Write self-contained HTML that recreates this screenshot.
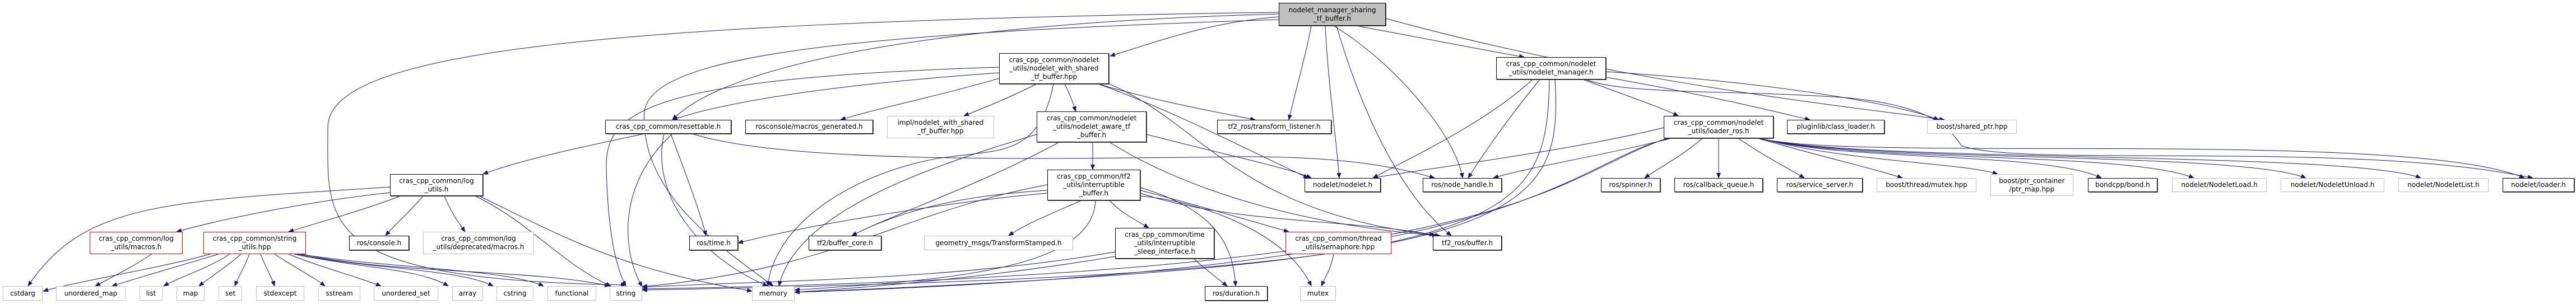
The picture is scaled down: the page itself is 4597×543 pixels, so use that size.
<!DOCTYPE html>
<html><head><meta charset="utf-8"><style>
body{margin:0;background:#fff;}
#c{position:relative;width:4597px;height:543px;overflow:hidden;background:#fff;font-family:"DejaVu Sans","Liberation Sans",sans-serif;font-size:12px;line-height:15px;color:#000;}
svg{position:absolute;left:0;top:0;}
.n{position:absolute;box-sizing:border-box;display:flex;align-items:center;justify-content:center;text-align:center;white-space:nowrap;background:#fff;}
.b{border:1px solid #000;box-shadow:1px 1px 0 #555;}
.g{border:1px solid #bfbfbf;}
.r{border:1px solid #ff0000;}
.root{background:#bfbfbf;border:1px solid #000;box-shadow:1px 1px 0 #555;}
</style></head><body><div id="c">
<svg width="4597" height="543" viewBox="0 0 4597 543">
<defs><marker id="a" markerWidth="10" markerHeight="8" refX="9" refY="4" orient="auto" markerUnits="userSpaceOnUse"><path d="M0,0 L10,4 L0,8 z" fill="#191970"/></marker></defs>
<g fill="none" stroke="#191970" stroke-width="1" marker-end="url(#a)">
<path d="M2283 30 C2150 40 2050 80 1981 100"/>
<path d="M2420 46 C2550 70 2650 90 2720 102"/>
<path d="M2283 25 C1700 40 1300 110 1200 214"/>
<path d="M2283 22 C1000 40 580 100 585 230 C585 400 560 500 1117 509"/>
<path d="M2283 35 C1500 60 1160 100 1150 200 C1140 350 1300 450 1380 511"/>
<path d="M2365 46 C2370 150 2385 250 2390 318"/>
<path d="M2380 46 C2500 120 2600 250 2610 318"/>
<path d="M2385 46 C2430 200 2500 350 2590 421"/>
<path d="M2340 46 C2330 100 2310 170 2300 214"/>
<path d="M2473 33 C2900 150 3300 190 3470 214"/>
<path d="M1783 130 C1500 150 1300 180 1200 214"/>
<path d="M1783 140 C1680 170 1560 195 1500 214"/>
<path d="M1850 150 C1800 175 1750 195 1720 207"/>
<path d="M1900 150 C1910 170 1915 185 1920 199"/>
<path d="M1960 150 C2060 180 2170 200 2240 214"/>
<path d="M1880 150 C1850 300 1760 260 1640 290 C1480 330 1380 420 1370 511"/>
<path d="M1783 120 C1150 140 1080 200 1082 300 C1085 420 1100 480 1117 511"/>
<path d="M1960 150 C2100 200 2250 280 2335 318"/>
<path d="M1975 148 C2150 220 2200 380 2570 421"/>
<path d="M2735 142 C2650 220 2520 280 2450 318"/>
<path d="M2748 142 C2700 200 2650 270 2620 318"/>
<path d="M2825 142 C2900 170 2960 190 2995 207"/>
<path d="M2866 138 C3050 170 3170 200 3230 214"/>
<path d="M2866 128 C3200 150 3400 190 3460 214"/>
<path d="M2830 142 C2900 170 3100 160 3300 175 C3450 190 3480 230 3500 260 C3600 300 4200 250 4520 318"/>
<path d="M2765 142 C2760 400 2700 470 1418 522"/>
<path d="M2775 142 C2790 400 2720 490 1146 518"/>
<path d="M2046 240 C2200 280 2300 300 2340 318"/>
<path d="M1950 254 L1950 303"/>
<path d="M1890 254 C1750 330 1600 380 1520 421"/>
<path d="M1850 240 C1650 300 1420 380 1390 511"/>
<path d="M1980 254 C2100 330 2300 400 2565 421"/>
<path d="M1150 239 C1050 260 930 285 862 311"/>
<path d="M1197 239 C1220 300 1250 380 1260 421"/>
<path d="M1185 239 C1160 350 1250 460 1370 511"/>
<path d="M1235 239 C1400 290 1800 285 2200 280 C2400 278 2500 300 2560 318"/>
<path d="M1200 239 C1100 330 1110 450 1146 512"/>
<path d="M1869 345 C1700 360 1450 400 1317 434"/>
<path d="M1869 340 C1700 350 1600 380 1520 421"/>
<path d="M1930 358 C1880 380 1830 400 1800 421"/>
<path d="M1980 358 C2000 380 2030 395 2050 407"/>
<path d="M2035 340 C2150 370 2250 400 2300 414"/>
<path d="M2035 345 C2200 400 2400 390 2560 420"/>
<path d="M2035 335 C2150 370 2200 420 2205 511"/>
<path d="M1955 358 C1950 480 1700 500 1418 518"/>
<path d="M1869 330 C1600 380 1500 480 1146 512"/>
<path d="M2035 350 C2150 360 2300 420 2340 511"/>
<path d="M2130 462 C2150 480 2170 495 2190 511"/>
<path d="M1990 458 C1800 490 1600 510 1418 522"/>
<path d="M1990 450 C1700 500 1400 500 1146 513"/>
<path d="M2380 454 C2375 480 2365 495 2358 511"/>
<path d="M696 334 C300 360 150 360 50 511"/>
<path d="M696 344 C550 360 400 390 315 414"/>
<path d="M715 350 C650 375 560 400 515 414"/>
<path d="M755 350 C730 380 705 400 688 421"/>
<path d="M793 350 C805 380 820 400 830 414"/>
<path d="M848 350 C950 400 1000 470 1090 511"/>
<path d="M855 350 C1000 420 1100 480 1342 520"/>
<path d="M270 454 C240 475 200 495 170 511"/>
<path d="M375 454 C280 480 150 500 77 520"/>
<path d="M390 454 C320 475 250 495 200 511"/>
<path d="M410 454 C370 480 320 495 292 511"/>
<path d="M430 454 C400 480 375 495 355 511"/>
<path d="M445 454 C435 480 425 495 419 511"/>
<path d="M465 454 C475 480 485 495 490 511"/>
<path d="M490 454 C530 480 560 495 580 511"/>
<path d="M515 454 C580 480 640 495 680 511"/>
<path d="M525 454 C650 480 750 480 800 511"/>
<path d="M530 454 C650 480 820 480 880 511"/>
<path d="M535 454 C700 480 900 480 970 511"/>
<path d="M540 454 C700 490 950 480 1088 511"/>
<path d="M2969 228 C2800 270 2550 300 2450 318"/>
<path d="M2983 247 C2850 280 2720 300 2665 318"/>
<path d="M3038 247 C3000 280 2960 300 2935 318"/>
<path d="M3067 247 L3067 318"/>
<path d="M3102 247 C3150 280 3190 300 3220 318"/>
<path d="M3137 247 C3250 280 3340 300 3395 318"/>
<path d="M3140 247 C3300 290 3500 290 3565 311"/>
<path d="M3140 247 C3300 290 3650 270 3750 318"/>
<path d="M3140 247 C3300 290 3800 270 3915 318"/>
<path d="M3140 247 C3300 290 4000 270 4115 318"/>
<path d="M3140 247 C3300 290 4200 270 4320 318"/>
<path d="M3140 247 C3300 290 4300 230 4505 318"/>
<path d="M2978 247 C2780 300 2750 480 1418 522"/>
<path d="M2975 247 C2760 320 2730 490 1146 516"/>
</g></svg>

<div class="n root" style="left:2282px;top:5px;width:191px;height:41px">nodelet_manager_sharing<br>_tf_buffer.h</div>
<div class="n b" style="left:1783px;top:95px;width:196px;height:55px">cras_cpp_common/nodelet<br>_utils/nodelet_with_shared<br>_tf_buffer.hpp</div>
<div class="n b" style="left:2670px;top:102px;width:196px;height:40px">cras_cpp_common/nodelet<br>_utils/nodelet_manager.h</div>

<div class="n b" style="left:1080px;top:214px;width:225px;height:25px">cras_cpp_common/resettable.h</div>
<div class="n b" style="left:1330px;top:214px;width:228px;height:25px">rosconsole/macros_generated.h</div>
<div class="n g" style="left:1583px;top:207px;width:191px;height:40px">impl/nodelet_with_shared<br>_tf_buffer.hpp</div>
<div class="n b" style="left:1850px;top:199px;width:196px;height:55px">cras_cpp_common/nodelet<br>_utils/nodelet_aware_tf<br>_buffer.h</div>
<div class="n b" style="left:2172px;top:214px;width:204px;height:25px">tf2_ros/transform_listener.h</div>
<div class="n b" style="left:2969px;top:207px;width:196px;height:40px">cras_cpp_common/nodelet<br>_utils/loader_ros.h</div>
<div class="n b" style="left:3189px;top:214px;width:174px;height:25px">pluginlib/class_loader.h</div>
<div class="n g" style="left:3439px;top:214px;width:160px;height:25px">boost/shared_ptr.hpp</div>

<div class="n b" style="left:696px;top:311px;width:166px;height:39px">cras_cpp_common/log<br>_utils.h</div>
<div class="n b" style="left:1869px;top:303px;width:166px;height:55px">cras_cpp_common/tf2<br>_utils/interruptible<br>_buffer.h</div>
<div class="n b" style="left:2328px;top:318px;width:136px;height:25px">nodelet/nodelet.h</div>
<div class="n b" style="left:2539px;top:318px;width:141px;height:25px">ros/node_handle.h</div>
<div class="n b" style="left:2857px;top:318px;width:106px;height:25px">ros/spinner.h</div>
<div class="n b" style="left:2988px;top:318px;width:158px;height:25px">ros/callback_queue.h</div>
<div class="n b" style="left:3171px;top:318px;width:153px;height:25px">ros/service_server.h</div>
<div class="n g" style="left:3349px;top:318px;width:178px;height:25px">boost/thread/mutex.hpp</div>
<div class="n g" style="left:3552px;top:311px;width:148px;height:39px">boost/ptr_container<br>/ptr_map.hpp</div>
<div class="n b" style="left:3726px;top:318px;width:124px;height:25px">bondcpp/bond.h</div>
<div class="n g" style="left:3876px;top:318px;width:169px;height:25px">nodelet/NodeletLoad.h</div>
<div class="n g" style="left:4070px;top:318px;width:185px;height:25px">nodelet/NodeletUnload.h</div>
<div class="n g" style="left:4280px;top:318px;width:161px;height:25px">nodelet/NodeletList.h</div>
<div class="n b" style="left:4466px;top:318px;width:128px;height:25px">nodelet/loader.h</div>

<div class="n r" style="left:160px;top:414px;width:166px;height:40px">cras_cpp_common/log<br>_utils/macros.h</div>
<div class="n r" style="left:363px;top:414px;width:183px;height:40px">cras_cpp_common/string<br>_utils.hpp</div>
<div class="n b" style="left:623px;top:421px;width:107px;height:26px">ros/console.h</div>
<div class="n g" style="left:755px;top:414px;width:198px;height:40px">cras_cpp_common/log<br>_utils/deprecated/macros.h</div>
<div class="n b" style="left:1230px;top:421px;width:87px;height:26px">ros/time.h</div>
<div class="n b" style="left:1443px;top:421px;width:130px;height:26px">tf2/buffer_core.h</div>
<div class="n g" style="left:1649px;top:421px;width:266px;height:26px">geometry_msgs/TransformStamped.h</div>
<div class="n b" style="left:1990px;top:407px;width:177px;height:55px">cras_cpp_common/time<br>_utils/interruptible<br>_sleep_interface.h</div>
<div class="n r" style="left:2294px;top:414px;width:189px;height:40px">cras_cpp_common/thread<br>_utils/semaphore.hpp</div>
<div class="n b" style="left:2557px;top:421px;width:123px;height:26px">tf2_ros/buffer.h</div>

<div class="n g" style="left:5px;top:511px;width:71px;height:26px">cstdarg</div>
<div class="n g" style="left:100px;top:511px;width:124px;height:26px">unordered_map</div>
<div class="n g" style="left:249px;top:511px;width:41px;height:26px">list</div>
<div class="n g" style="left:315px;top:511px;width:50px;height:26px">map</div>
<div class="n g" style="left:390px;top:511px;width:42px;height:26px">set</div>
<div class="n g" style="left:457px;top:511px;width:86px;height:26px">stdexcept</div>
<div class="n g" style="left:568px;top:511px;width:75px;height:26px">sstream</div>
<div class="n g" style="left:667px;top:511px;width:115px;height:26px">unordered_set</div>
<div class="n g" style="left:807px;top:511px;width:55px;height:26px">array</div>
<div class="n g" style="left:886px;top:511px;width:66px;height:26px">cstring</div>
<div class="n g" style="left:977px;top:511px;width:87px;height:26px">functional</div>
<div class="n g" style="left:1088px;top:511px;width:58px;height:26px">string</div>
<div class="n g" style="left:1342px;top:511px;width:76px;height:26px">memory</div>
<div class="n b" style="left:2150px;top:511px;width:112px;height:26px">ros/duration.h</div>
<div class="n g" style="left:2320px;top:511px;width:64px;height:26px">mutex</div>
</div></body></html>
